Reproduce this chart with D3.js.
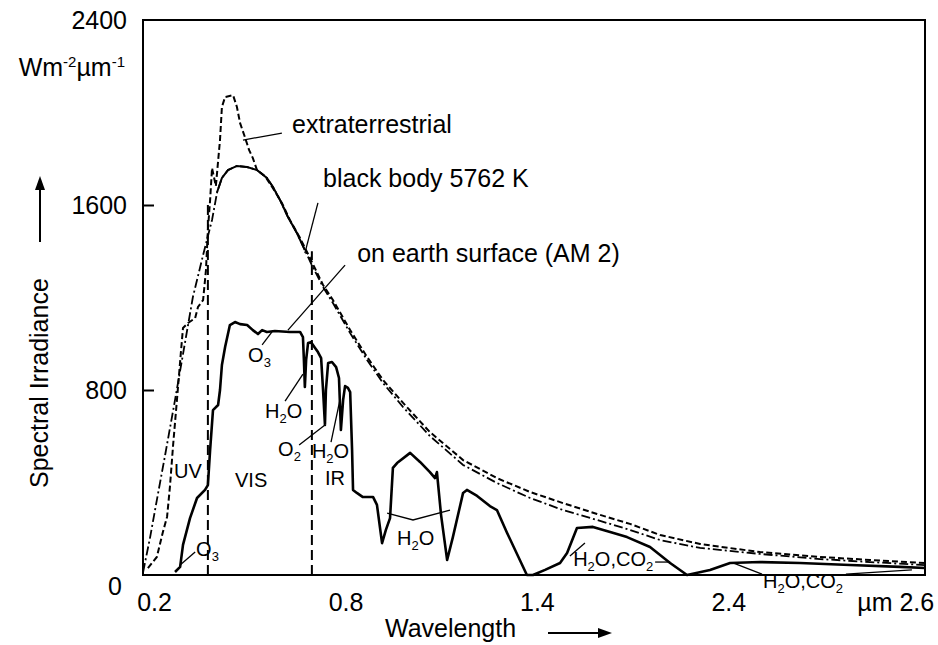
<!DOCTYPE html>
<html>
<head>
<meta charset="utf-8">
<script src="https://cdn.jsdelivr.net/npm/d3@7"></script>
<style>
  body { margin: 0; background: #fff; }
  text { font-family: "Liberation Sans", Arial, sans-serif; fill: #000; }
</style>
</head>
<body>
<svg id="chart" width="938" height="645"></svg>
<script>
// ##################################
// Solar spectrum: extraterrestrial, black body, earth surface
// ##################################

// wavelength (um), spectral irradiance (W m-2 um-1)
const blackBody = [
  [0.164, 13], [0.186, 164], [0.207, 324], [0.233, 519], [0.264, 757], [0.295, 1003],
  [0.320, 1202], [0.352, 1384], [0.380, 1535], [0.396, 1656], [0.411, 1717], [0.430, 1751],
  [0.458, 1769], [0.490, 1764], [0.521, 1751], [0.552, 1717], [0.571, 1678], [0.593, 1622],
  [0.618, 1548], [0.646, 1479], [0.671, 1405], [0.693, 1340], [0.728, 1245], [0.759, 1176],
  [0.813, 1046], [0.866, 930], [0.916, 830], [0.979, 726], [1.063, 601], [1.167, 476],
  [1.273, 398], [1.377, 333], [1.480, 281], [1.587, 238], [1.690, 195], [1.785, 151],
  [1.910, 117], [2.098, 91], [2.286, 69], [2.443, 56], [2.615, 43]
];

const extraterrestrial = [
  [0.179, 30], [0.207, 78], [0.226, 186], [0.239, 251], [0.248, 381], [0.258, 562],
  [0.270, 757], [0.283, 973], [0.289, 1068], [0.305, 1090], [0.327, 1111], [0.336, 1159],
  [0.352, 1189], [0.361, 1319], [0.367, 1492], [0.374, 1622], [0.380, 1760], [0.392, 1682],
  [0.405, 1881], [0.411, 2024], [0.421, 2067], [0.446, 2075], [0.458, 2024], [0.468, 1954],
  [0.483, 1894], [0.496, 1838], [0.508, 1803], [0.521, 1751], [0.546, 1725], [0.571, 1673],
  [0.599, 1609], [0.624, 1535], [0.656, 1457], [0.687, 1371], [0.728, 1254], [0.759, 1189],
  [0.813, 1059], [0.866, 943], [0.916, 843], [0.979, 744], [1.063, 618], [1.167, 497],
  [1.273, 419], [1.377, 359], [1.480, 311], [1.587, 264], [1.690, 221], [1.785, 173],
  [1.910, 134], [2.098, 99], [2.286, 78], [2.443, 65], [2.615, 52]
];

const earthSurface = [
  [0.264, 13], [0.280, 35], [0.289, 130], [0.311, 246], [0.333, 333], [0.358, 368],
  [0.367, 389], [0.374, 541], [0.383, 713], [0.399, 735], [0.405, 800], [0.411, 908],
  [0.421, 986], [0.436, 1081], [0.452, 1094], [0.468, 1085], [0.490, 1081], [0.508, 1059],
  [0.524, 1042], [0.537, 1059], [0.552, 1051], [0.577, 1055], [0.624, 1051], [0.656, 1051],
  [0.665, 1029], [0.668, 930], [0.671, 813], [0.675, 930], [0.681, 1003], [0.690, 1007],
  [0.703, 982], [0.712, 964], [0.722, 938], [0.728, 800], [0.734, 649], [0.737, 800],
  [0.744, 917], [0.756, 921], [0.769, 899], [0.778, 852], [0.784, 627], [0.791, 757],
  [0.797, 817], [0.806, 809], [0.813, 791], [0.819, 541], [0.822, 368], [0.834, 355],
  [0.853, 337], [0.885, 337], [0.897, 303], [0.913, 138], [0.925, 195], [0.938, 246],
  [0.947, 463], [0.960, 484], [1.001, 528], [1.032, 489], [1.063, 445], [1.079, 419],
  [1.085, 445], [1.098, 259], [1.117, 65], [1.135, 164], [1.167, 355], [1.179, 368],
  [1.211, 342], [1.251, 298], [1.273, 281], [1.305, 182], [1.367, 0], [1.386, 0],
  [1.424, 22], [1.471, 52], [1.493, 95], [1.524, 203], [1.574, 208], [1.628, 186],
  [1.681, 164], [1.753, 121], [1.816, 52], [1.869, 0], [1.941, 22], [2.004, 52],
  [2.098, 56], [2.223, 52], [2.380, 43], [2.537, 35], [2.615, 30]
];

// UV / VIS / IR borders (um)
const bandBorders = [0.367, 0.693];
const bandBorderTops = [1620, 1400];

const xTicks = [0.2, 0.8, 1.4, 2.0, 2.6];
const xTickLabels = ["0.2", "0.8", "1.4", "2.4", "\u00b5m 2.6"];
const yTicks = [0, 800, 1600, 2400];
const yTickLabels = ["0", "800", "1600", "2400"];

const svg = d3.select("#chart");
const w = 938, h = 645;

// scales
const x = d3.scaleLinear().domain([0.1636, 2.615]).range([143, 925]);
const y = d3.scaleLinear().domain([0, 2400]).range([575, 20]);

const line = d3.line().x(d => x(d[0])).y(d => y(d[1]));

// frame
svg.append("rect")
  .attr("x", x.range()[0]).attr("y", y.range()[1])
  .attr("width", x.range()[1] - x.range()[0])
  .attr("height", y.range()[0] - y.range()[1])
  .attr("fill", "none").attr("stroke", "#000").attr("stroke-width", 2);

// inner ticks on the left axis
const yAxis = d3.axisLeft(y).tickValues([800, 1600]).tickSizeInner(-11).tickSizeOuter(0).tickFormat("");
svg.append("g").attr("transform", `translate(${x.range()[0]},0)`).call(yAxis)
  .call(g => g.select(".domain").remove())
  .selectAll("line").attr("stroke-width", 2);

// band borders
svg.append("g").selectAll("line")
  .data(bandBorders)
  .enter().append("line")
    .attr("x1", d => x(d)).attr("x2", d => x(d))
    .attr("y1", y(0)).attr("y2", (d, i) => y(bandBorderTops[i]))
    .attr("stroke", "#000").attr("stroke-width", 2)
    .attr("stroke-dasharray", "10,5");

// black body (dash-dot, solid around the maximum)
svg.append("path").datum(blackBody)
  .attr("d", line).attr("fill", "none").attr("stroke", "#000")
  .attr("stroke-width", 1.8).attr("stroke-dasharray", "9,3,2,3");
svg.append("path").datum(blackBody.filter(d => d[0] >= 0.396 && d[0] <= 0.671))
  .attr("d", line).attr("fill", "none").attr("stroke", "#000").attr("stroke-width", 2);

// extraterrestrial (dashed)
svg.append("path").datum(extraterrestrial)
  .attr("d", line).attr("fill", "none").attr("stroke", "#000")
  .attr("stroke-width", 2).attr("stroke-dasharray", "6,3");

// earth surface AM 2 (solid)
svg.append("path").datum(earthSurface)
  .attr("d", line).attr("fill", "none").attr("stroke", "#000")
  .attr("stroke-width", 2.6).attr("stroke-linejoin", "round");

// leader lines for the annotations
const leaders = [
  [[0.477, 1881], [0.599, 1911]],
  [[0.671, 1392], [0.712, 1609]],
  [[0.618, 1059], [0.797, 1340]],
  [[0.537, 995], [0.568, 1051]],
  [[0.609, 752], [0.665, 869]],
  [[0.653, 562], [0.734, 649]],
  [[0.753, 575], [0.781, 757]],
  [[0.929, 268], [1.010, 238], [1.126, 281]],
  [[1.502, 82], [1.549, 138]],
  [[1.769, 56], [1.816, 56]],
  [[2.013, 52], [2.104, 4]],
  [[2.367, 4], [2.574, 22]],
  [[0.280, 43], [0.327, 99]]
];
svg.append("g").selectAll("path")
  .data(leaders)
  .enter().append("path")
    .attr("d", line).attr("fill", "none")
    .attr("stroke", "#000").attr("stroke-width", 1.3);

// curve names
const curveNames = [
  ["extraterrestrial", 0.631, 1911],
  ["black body 5762 K", 0.728, 1678],
  ["on earth surface (AM 2)", 0.835, 1353]
];
svg.append("g").selectAll("text")
  .data(curveNames)
  .enter().append("text")
    .attr("x", d => x(d[1])).attr("y", d => y(d[2]))
    .attr("font-size", 25)
    .text(d => d[0]);

// band names
const bandNames = [["UV", 0.261, 419], ["VIS", 0.452, 380], ["IR", 0.734, 389]];
svg.append("g").selectAll("text")
  .data(bandNames)
  .enter().append("text")
    .attr("x", d => x(d[1])).attr("y", d => y(d[2]))
    .attr("font-size", 20)
    .text(d => d[0]);

// absorbers, "_" marks a subscript digit
const absorbers = [
  ["O_3", 0.330, 82], ["O_3", 0.493, 921], ["H_2O", 0.546, 679], ["O_2", 0.587, 515],
  ["H_2O", 0.693, 506], ["H_2O", 0.960, 130], ["H_2O,CO_2", 1.512, 39], ["H_2O,CO_2", 2.107, -56]
];
absorbers.forEach(a => {
  const t = svg.append("text")
    .attr("x", x(a[1])).attr("y", y(a[2]))
    .attr("font-size", 20);
  const parts = a[0].split(/(_\d)/).filter(s => s.length);
  let sub = false;
  parts.forEach(p => {
    if (p[0] === "_") {
      t.append("tspan").attr("font-size", 13).attr("dy", 5).text(p.slice(1));
      sub = true;
    } else {
      t.append("tspan").attr("dy", sub ? -5 : 0).text(p);
      sub = false;
    }
  });
});

// y tick labels
svg.append("g").selectAll("text")
  .data(yTicks)
  .enter().append("text")
    .attr("text-anchor", "end")
    .attr("x", d => d === 0 ? 122 : 127)
    .attr("y", d => y(d) + (d === 0 ? 20 : 9))
    .attr("font-size", 25)
    .text((d, i) => yTickLabels[i]);

// unit
const unit = svg.append("text")
  .attr("text-anchor", "end").attr("x", 125).attr("y", 76).attr("font-size", 25);
unit.append("tspan").text("Wm");
unit.append("tspan").attr("font-size", 15).attr("dy", -9).text("-2");
unit.append("tspan").attr("dy", 9).text("\u00b5m");
unit.append("tspan").attr("font-size", 15).attr("dy", -9).text("-1");

// x tick labels
svg.append("g").selectAll("text")
  .data(xTicks)
  .enter().append("text")
    .attr("text-anchor", (d, i) => i === xTicks.length - 1 ? "end" : "middle")
    .attr("x", (d, i) => x(d) + (i === xTicks.length - 1 ? 14 : 0))
    .attr("y", 611)
    .attr("font-size", 25)
    .text((d, i) => xTickLabels[i]);

// axis titles with arrows
svg.append("text")
  .attr("transform", "translate(48,488) rotate(-90)")
  .attr("font-size", 25)
  .text("Spectral Irradiance");
svg.append("line").attr("x1", 40).attr("x2", 40).attr("y1", 242).attr("y2", 186)
  .attr("stroke", "#000").attr("stroke-width", 2);
svg.append("path").attr("d", "M40,176 L35,190 L45,190 Z").attr("fill", "#000");

svg.append("text")
  .attr("x", 385).attr("y", 637)
  .attr("font-size", 25)
  .text("Wavelength");
svg.append("line").attr("x1", 548).attr("x2", 602).attr("y1", 633).attr("y2", 633)
  .attr("stroke", "#000").attr("stroke-width", 2);
svg.append("path").attr("d", "M612,633 L598,628 L598,638 Z").attr("fill", "#000");
</script>
</body>
</html>
